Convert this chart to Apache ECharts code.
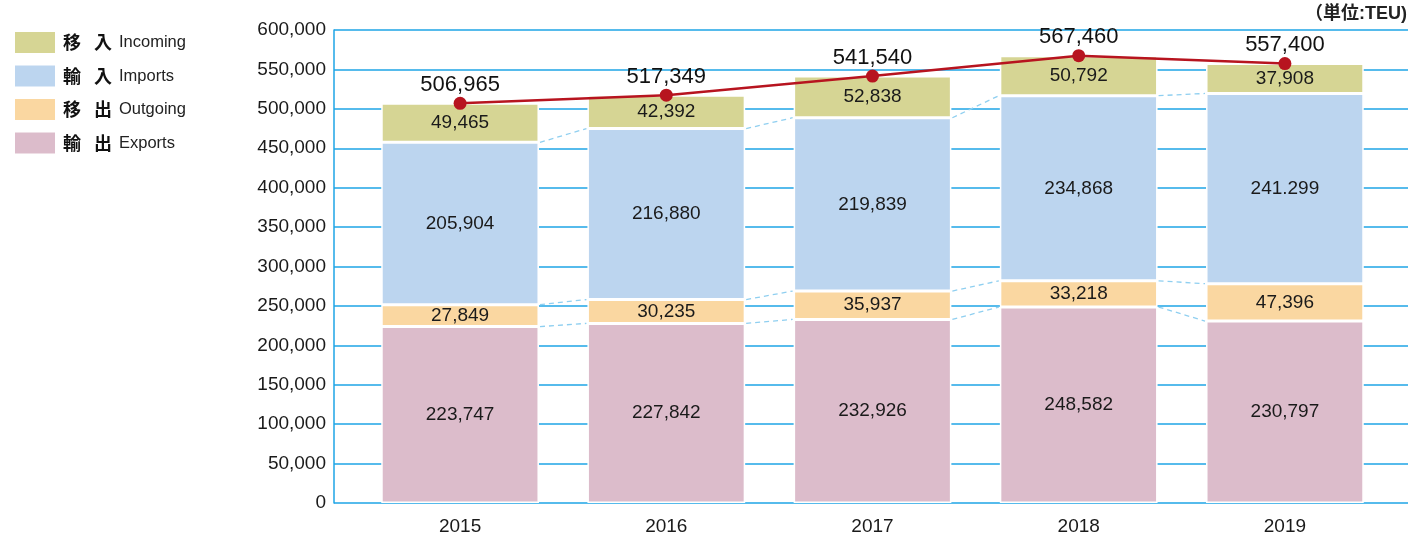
<!DOCTYPE html>
<html>
<head>
<meta charset="utf-8">
<script src="https://cdn.jsdelivr.net/npm/echarts@6/dist/echarts.min.js"></script>
<style>
  html, body { margin: 0; padding: 0; background: #fff; }
  #chart { width: 1408px; height: 542px; }
</style>
</head>
<body>
<div id="chart"></div>
<script>
// 年
const years = ['2015', '2016', '2017', '2018', '2019'];
// 輸出 / 移出 / 輸入 / 移入 (TEU)
const exportsData = [223747, 227842, 232926, 248582, 230797];
const outgoingData = [27849, 30235, 35937, 33218, 47396];
const importsData = [205904, 216880, 219839, 234868, 241299];
const incomingData = [49465, 42392, 52838, 50792, 37908];
// 合計
const totalData = [506965, 517349, 541540, 567460, 557400];
// 輸入ラベル (原図の表記のまま)
const importLabels = ['205,904', '216,880', '219,839', '234,868', '241.299'];

const jpNames = { Incoming: ['移', '入'], Imports: ['輸', '入'], Outgoing: ['移', '出'], Exports: ['輸', '出'] };
const FONT = "'Liberation Sans', Arial, sans-serif";
const BAR_RATIO = 0.765;

const fmt = v => Number(v).toLocaleString('en-US');

// 連結線用の累積値
const connectData = [];
for (let i = 0; i < years.length - 1; i++) {
  const c = j => {
    const a = exportsData[j], b = a + outgoingData[j], d = b + importsData[j];
    return [a, b, d];
  };
  const p = c(i), q = c(i + 1);
  connectData.push([i, p[0], q[0], p[1], q[1], p[2], q[2]]);
}

const segLabel = {
  show: true,
  position: 'inside',
  fontSize: 19,
  fontFamily: FONT,
  color: '#1a1a1a',
  formatter: p => fmt(p.value)
};

function barSeries(name, data, color) {
  return {
    name: name,
    type: 'bar',
    stack: 'teu',
    xAxisIndex: 1,
    yAxisIndex: 1,
    barWidth: (BAR_RATIO * 100) + '%',
    data: data,
    itemStyle: { color: color, borderColor: '#fff', borderWidth: 1.5 },
    label: segLabel
  };
}

const chart = echarts.init(document.getElementById('chart'));

const option = {
  animation: false,
  textStyle: { fontFamily: FONT },
  title: {
    text: '（単位:TEU)',
    right: 1,
    top: 5,
    padding: 0,
    textStyle: { fontSize: 18, fontWeight: 'bold', color: '#222', fontFamily: FONT + ", 'Noto Sans CJK JP'" }
  },
  legend: {
    orient: 'vertical',
    left: 13,
    top: 30,
    padding: 0,
    itemWidth: 42,
    itemHeight: 23,
    itemGap: 8.5,
    icon: 'rect',
    data: ['Incoming', 'Imports', 'Outgoing', 'Exports'],
    formatter: name => '{p|}{j|' + jpNames[name][0] + '}{s|}{j|' + jpNames[name][1] + '}{s2|}{e|' + name + '}',
    textStyle: {
      rich: {
        p: { width: 2 },
        j: { fontSize: 18, fontWeight: 'bold', color: '#111', fontFamily: "'Noto Sans CJK JP'" },
        s: { width: 13 },
        s2: { width: 7 },
        e: { fontSize: 16.5, color: '#222', fontFamily: FONT }
      }
    }
  },
  grid: [
    { left: 334, right: 0, top: 30, bottom: 39 },
    { left: 357, right: 20, top: 30, bottom: 39 }
  ],
  xAxis: [
    { type: 'category', gridIndex: 0, data: years, show: false },
    {
      type: 'category',
      gridIndex: 1,
      data: years,
      axisLine: { show: false },
      axisTick: { show: false },
      axisLabel: { fontSize: 19, color: '#1a1a1a', margin: 14, fontFamily: FONT }
    }
  ],
  yAxis: [
    {
      type: 'value',
      gridIndex: 0,
      min: 0,
      max: 600000,
      interval: 50000,
      axisLine: { show: true, lineStyle: { color: '#1ea4e6', width: 1.5 } },
      axisTick: { show: false },
      axisLabel: { fontSize: 19, color: '#1a1a1a', margin: 8, formatter: v => fmt(v), fontFamily: FONT },
      splitLine: { lineStyle: { color: '#1ea4e6', width: 1.5 } }
    },
    { type: 'value', gridIndex: 1, min: 0, max: 600000, interval: 50000, show: false }
  ],
  series: [
    barSeries('Exports', exportsData, '#dcbccb'),
    barSeries('Outgoing', outgoingData, '#fad7a1'),
    Object.assign(barSeries('Imports', importsData, '#bcd5ef'), {
      label: Object.assign({}, segLabel, { formatter: p => importLabels[p.dataIndex] })
    }),
    barSeries('Incoming', incomingData, '#d6d594'),
    {
      name: 'connect',
      type: 'custom',
      xAxisIndex: 1,
      yAxisIndex: 1,
      silent: true,
      z: 3,
      encode: { x: 0, y: 1 },
      data: connectData,
      renderItem: (params, api) => {
        const i = api.value(0);
        const half = api.size([1, 0])[0] * BAR_RATIO / 2;
        const children = [];
        for (let k = 0; k < 3; k++) {
          const p1 = api.coord([i, api.value(1 + 2 * k)]);
          const p2 = api.coord([i + 1, api.value(2 + 2 * k)]);
          children.push({
            type: 'line',
            shape: { x1: p1[0] + half + 1, y1: p1[1], x2: p2[0] - half - 1, y2: p2[1] },
            style: { stroke: '#8fcff0', lineWidth: 1.3, lineDash: [5, 4] }
          });
        }
        return { type: 'group', children: children };
      }
    },
    {
      name: 'Total',
      type: 'line',
      xAxisIndex: 1,
      yAxisIndex: 1,
      z: 5,
      data: totalData,
      symbol: 'circle',
      symbolSize: 13,
      lineStyle: { color: '#b7141f', width: 2.5 },
      itemStyle: { color: '#b7141f' },
      label: {
        show: true,
        position: 'top',
        distance: 1,
        fontSize: 22,
        color: '#111',
        fontFamily: FONT,
        formatter: p => fmt(p.value)
      }
    }
  ]
};

chart.setOption(option);
</script>
</body>
</html>
